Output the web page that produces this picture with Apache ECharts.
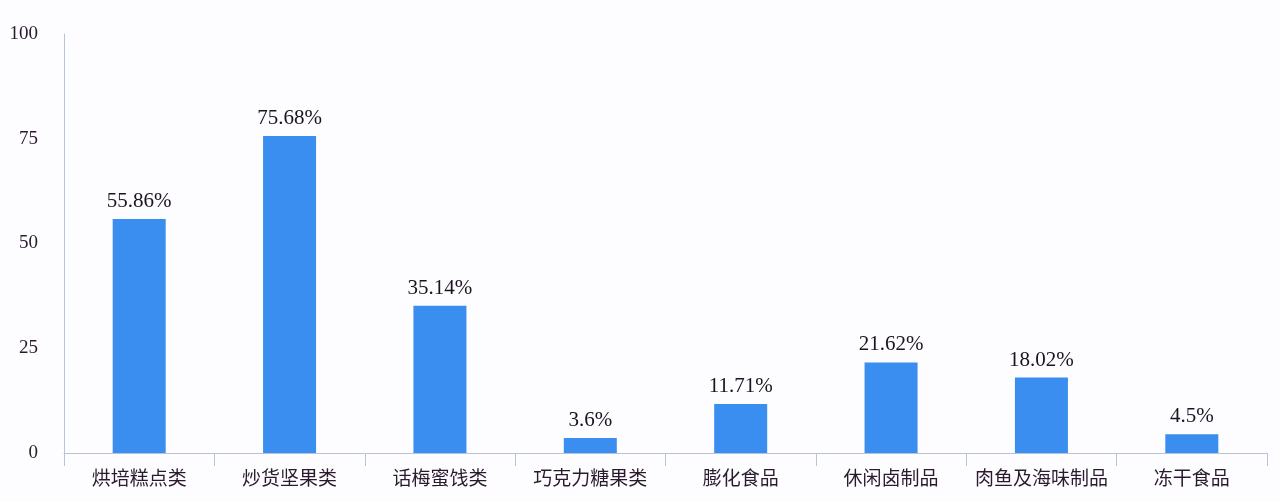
<!DOCTYPE html>
<html>
<head>
<meta charset="utf-8">
<script src="https://cdn.jsdelivr.net/npm/echarts@6/dist/echarts.min.js"></script>
<style>
  html, body { margin: 0; padding: 0; background: #fdfdff; }
  #main { width: 1280px; height: 502px; }
</style>
</head>
<body>
<div id="main"></div>
<script>
var chartDom = document.getElementById('main');
var myChart = echarts.init(chartDom, null);
var option;

var categories = ['烘培糕点类', '炒货坚果类', '话梅蜜饯类', '巧克力糖果类', '膨化食品', '休闲卤制品', '肉鱼及海味制品', '冻干食品'];
var values = [55.86, 75.68, 35.14, 3.6, 11.71, 21.62, 18.02, 4.5];
var yTicks = [0, 25, 50, 75, 100];

var fontFam = "'Liberation Serif', 'Noto Sans CJK SC', serif";

option = {
  backgroundColor: '#fdfdff',
  textStyle: {
    fontFamily: fontFam
  },
  grid: {
    left: 64,
    right: 13,
    top: 34,
    bottom: 49
  },
  xAxis: {
    type: 'category',
    data: categories,
    axisLine: { lineStyle: { color: '#b9c3d6', width: 1 } },
    axisTick: { show: true, interval: 0, length: 13, lineStyle: { color: '#b9c3d6' } },
    axisLabel: {
      interval: 0,
      color: '#2b1a2e',
      fontSize: 19,
      margin: 18,
      fontFamily: fontFam
    }
  },
  yAxis: {
    type: 'value',
    min: yTicks[0],
    max: yTicks[yTicks.length - 1],
    interval: 25,
    axisLine: { show: true, lineStyle: { color: '#b9c3d6', width: 1 } },
    axisTick: { show: false },
    splitLine: { show: false },
    axisLabel: {
      color: '#2b1a2e',
      fontSize: 19,
      margin: 26,
      fontFamily: fontFam
    }
  },
  series: [{
    type: 'bar',
    data: values,
    barWidth: 53,
    itemStyle: { color: '#3a8ef0' },
    label: {
      show: true,
      position: 'top',
      distance: 7,
      color: '#1c1222',
      fontSize: 21,
      fontFamily: fontFam,
      formatter: function (p) { return p.value + '%'; }
    }
  }]
};

myChart.setOption(option);
</script>
</body>
</html>
